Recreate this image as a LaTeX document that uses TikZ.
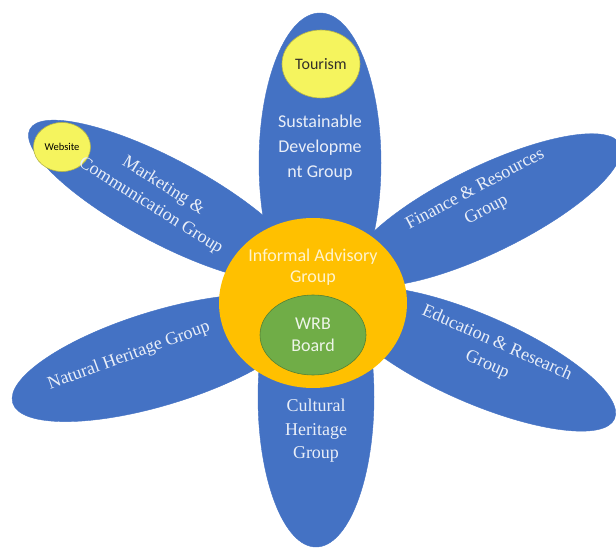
\documentclass[tikz,border=0pt]{standalone}
\usepackage{fontspec}
\setmainfont{Liberation Serif}
\setsansfont{Carlito}
\usetikzlibrary{shapes.geometric}

\definecolor{petalblue}{HTML}{4472C4}
\definecolor{hubgold}{HTML}{FFC000}
\definecolor{boardgreen}{HTML}{70AD47}
\definecolor{bubbleyellow}{HTML}{F5F45E}
\definecolor{paletext}{HTML}{E9EEF8}

\begin{document}
\begin{tikzpicture}[x=1pt,y=-1pt,
  petal/.style={ellipse,fill=petalblue,draw=petalblue,inner sep=0pt},
  bubble/.style={ellipse,fill=bubbleyellow,draw=bubbleyellow!75!black,line width=0.6pt,inner sep=0pt},
  sanslbl/.style={align=center,text=paletext,font=\sffamily\fontsize{18}{25}\selectfont},
  seriflbl/.style={align=center,text=paletext,font=\fontsize{18}{23.5}\selectfont}]

  \useasboundingbox (0,0) rectangle (616,548);

  % petals
  \node[petal,minimum width=306pt,minimum height=84pt,rotate=-28] (mark) at (165,201) {};
  \node[petal,minimum width=300pt,minimum height=86pt,rotate=26] (fin) at (485,210) {};
  \node[petal,minimum width=308pt,minimum height=94pt,rotate=17] (nat) at (160,358) {};
  \node[petal,minimum width=300pt,minimum height=88pt,rotate=-23.5] (edu) at (477,359) {};
  \node[petal,minimum width=122pt,minimum height=300pt] (sus) at (320,163) {};
  \node[petal,minimum width=116pt,minimum height=300pt] (cult) at (316,397) {};

  % centre
  \node[ellipse,fill=hubgold,inner sep=0pt,minimum width=188pt,minimum height=170pt] (hub) at (313,303) {};
  \node[ellipse,fill=boardgreen,draw=boardgreen!75!black,line width=0.6pt,inner sep=0pt,
        minimum width=106pt,minimum height=80pt,align=center,text=white!88!boardgreen,
        font=\sffamily\fontsize{18}{22}\selectfont] (wrb) at (313,335) {WRB\\Board};
  \node[align=center,text=white!80!hubgold,font=\sffamily\fontsize{18}{21}\selectfont] (iag) at (313,267) {Informal Advisory\\Group};

  % bubbles
  \node[bubble,minimum width=78pt,minimum height=68pt,text=black!85!olive,
        font=\sffamily\fontsize{16}{18}\selectfont] (tour) at (321,64) {Tourism};
  \node[bubble,minimum width=57pt,minimum height=49pt,text=black,
        font=\sffamily\fontsize{10.5}{12}\selectfont] (web) at (62,147) {Website};

  % labels
  \node[sanslbl] (suslbl) at (320,148) {Sustainable\\Developme\\nt Group};
  \node[seriflbl,rotate=-32] (marklbl) at (157,196) {Marketing \&\\Communication Group};
  \node[seriflbl,rotate=28] (finlbl) at (481,200) {Finance \& Resources\\Group};
  \node[seriflbl,rotate=20] (natlbl) at (129,356) {Natural Heritage Group};
  \node[seriflbl,rotate=-24] (edulbl) at (492,354) {Education \& Research\\Group};
  \node[seriflbl] (cultlbl) at (316,431) {Cultural\\Heritage\\Group};

\end{tikzpicture}
\end{document}
